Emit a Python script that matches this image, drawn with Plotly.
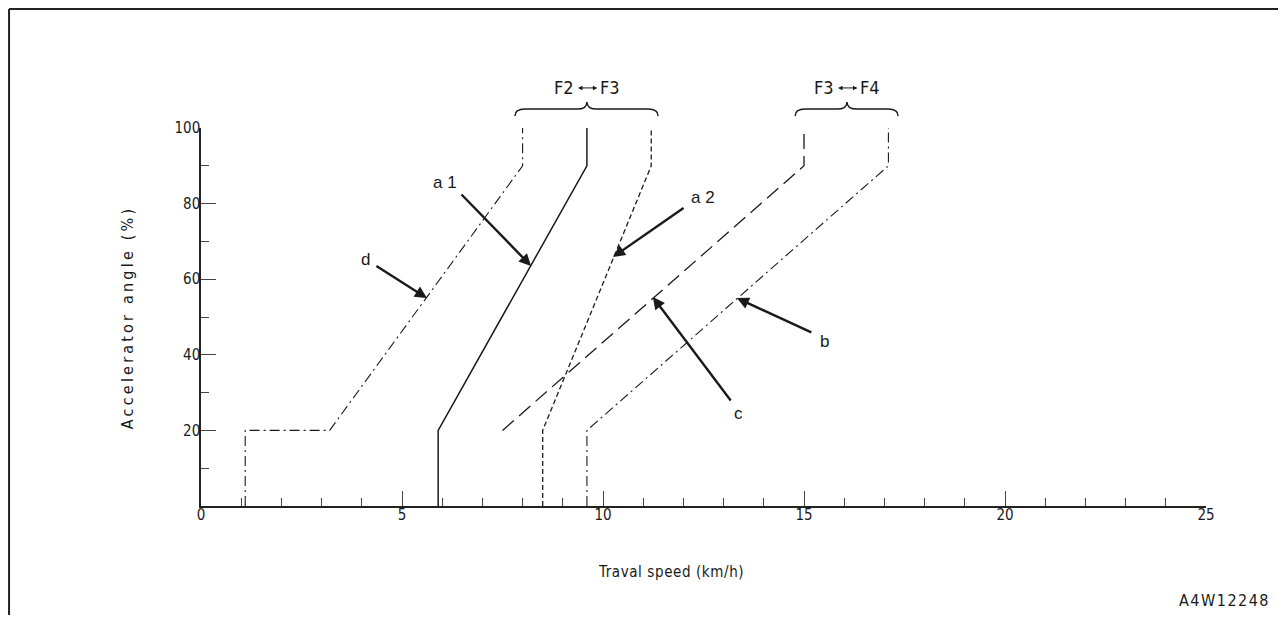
import plotly.graph_objects as go

# ---- data (travel speed km/h vs accelerator angle %) ----
a1_x = [5.9, 5.9, 9.6, 9.6]
a1_y = [0, 20, 90, 100]
a2_x = [8.5, 8.5, 11.2, 11.2]
a2_y = [0, 20, 90, 100]
b_x = [9.6, 9.6, 17.1, 17.1]
b_y = [0, 20, 90, 100]
c_x = [7.5, 15.0, 15.0]
c_y = [20, 90, 100]
d_x = [1.1, 1.1, 3.2, 8.0, 8.0]
d_y = [0, 20, 20, 90, 100]

x_ticks = [0, 5, 10, 15, 20, 25]
y_ticks = [20, 40, 60, 80, 100]

# label positions (data) and arrow targets
labels = ["a 1", "a 2", "d", "c", "b"]
label_x = [6.07, 12.49, 4.08, 13.36, 15.52]
label_y = [85.7, 81.7, 65.1, 24.6, 43.4]
arrow_x = [8.21, 10.25, 5.62, 11.24, 13.33]
arrow_y = [63.5, 65.9, 55.0, 55.3, 55.0]
arrow_ax = [-71, 72, -52, 79, 76]
arrow_ay = [-73, -50, -33, 105, 35]

# shift-range braces: (left text, right text, left end, centre, right end)
braces = [("F2", "F3", 7.81, 9.6, 11.37), ("F3", "F4", 14.78, 16.07, 17.34)]

FONT = "Liberation Sans Narrow, Arial Narrow, DejaVu Sans Condensed, sans-serif"
INK = "#1a1a1a"

fig = go.Figure()

def add_line(x, y, dash, width=1.3):
    fig.add_trace(go.Scatter(x=x, y=y, mode="lines", showlegend=False,
                             line=dict(color=INK, width=width, dash=dash),
                             hoverinfo="skip"))

add_line(d_x, d_y, "10px,4px,2px,4px", 1.1)
add_line(a1_x, a1_y, "solid", 1.5)
add_line(a2_x, a2_y, "5px,3px", 1.3)
add_line(c_x, c_y, "15px,7px", 1.3)
add_line(b_x, b_y, "10px,4px,2px,4px", 1.1)

annotations = []
for t, lx, ly in zip(labels, label_x, label_y):
    annotations.append(dict(x=lx, y=ly, xref="x", yref="y", text=t, showarrow=False,
                            xanchor="center", yanchor="middle",
                            font=dict(family="Liberation Sans, Arial, sans-serif", size=17, color=INK)))
for hx, hy, ax, ay in zip(arrow_x, arrow_y, arrow_ax, arrow_ay):
    annotations.append(dict(x=hx, y=hy, xref="x", yref="y", text="", showarrow=True,
                            ax=ax, ay=ay, arrowhead=2, arrowsize=1.0, arrowwidth=2.4,
                            arrowcolor=INK))

shapes = []
yh, ye, yp, yt = 1.050, 1.032, 1.069, 1.106
dd = 0.25
for tl, tr, x0, xc, x1 in braces:
    path = (f"M {x0},{ye} Q {x0},{yh} {x0+dd},{yh} L {xc-dd},{yh} "
            f"Q {xc},{yh} {xc},{yp} Q {xc},{yh} {xc+dd},{yh} "
            f"L {x1-dd},{yh} Q {x1},{yh} {x1},{ye}")
    shapes.append(dict(type="path", path=path, xref="x", yref="paper",
                       line=dict(color=INK, width=1.5)))
    annotations.append(dict(x=xc - 0.27, y=yt, xref="x", yref="paper", text=tl,
                            xanchor="right", yanchor="middle", showarrow=False,
                            font=dict(family=FONT, size=18, color=INK)))
    annotations.append(dict(x=xc + 0.27, y=yt, xref="x", yref="paper", text=tr,
                            xanchor="left", yanchor="middle", showarrow=False,
                            font=dict(family=FONT, size=18, color=INK)))
    annotations.append(dict(x=xc + 0.26, y=yt, xref="x", yref="paper", text="",
                            showarrow=True, axref="x", ax=xc - 0.26, ayref="pixel", ay=0,
                            arrowside="end+start", arrowhead=2, arrowsize=0.9,
                            arrowwidth=1.0, arrowcolor=INK, standoff=0, startstandoff=0))

# frame lines (top and left)
shapes.append(dict(type="line", xref="paper", yref="paper", x0=-0.191, x1=1.075,
                   y0=1.3148, y1=1.3148, line=dict(color="#222", width=2)))
shapes.append(dict(type="line", xref="paper", yref="paper", x0=-0.191, x1=-0.191,
                   y0=1.3148, y1=-0.29, line=dict(color="#222", width=2)))

# axis titles and drawing number
annotations.append(dict(x=-0.0736, y=0.497, xref="paper", yref="paper", textangle=-90,
                        xanchor="center", yanchor="middle",
                        text='<span style="letter-spacing:3.2px">Accelerator angle (%)</span>',
                        showarrow=False, font=dict(family=FONT, size=16, color=INK)))
annotations.append(dict(x=0.4677, y=-0.1746, xref="paper", yref="paper",
                        xanchor="center", yanchor="middle",
                        text='<span style="letter-spacing:0.6px">Traval speed (km/h)</span>',
                        showarrow=False, font=dict(family=FONT, size=15, color=INK)))
annotations.append(dict(x=1.0657, y=-0.251, xref="paper", yref="paper", xanchor="right",
                        yanchor="middle",
                        text='<span style="letter-spacing:1.5px">A4W12248</span>',
                        showarrow=False, font=dict(family=FONT, size=16, color=INK)))

axis_common = dict(showline=True, linecolor="#222", linewidth=1.5, showgrid=False,
                   zeroline=False, ticks="inside", ticklen=15, tickwidth=1.3,
                   tickcolor="#444", tickfont=dict(family=FONT, size=15, color=INK))

# the page body has an 8px margin; size the figure so the plot area lands
# where the reference has it
fig.update_layout(
    width=1270, height=607,
    margin=dict(l=193, r=72, t=120, b=109),
    paper_bgcolor="white", plot_bgcolor="white",
    xaxis=dict(range=[0, 25], tickvals=x_ticks, ticklabelstandoff=-6, **axis_common,
               minor=dict(dtick=1, tick0=0, ticks="inside", ticklen=8, tickwidth=1.2,
                          tickcolor="#444", showgrid=False)),
    yaxis=dict(range=[0, 100], tickvals=y_ticks, ticklabelstandoff=-4, **axis_common,
               minor=dict(dtick=10, tick0=0, ticks="inside", ticklen=8, tickwidth=1.2,
                          tickcolor="#444", showgrid=False)),
    annotations=annotations, shapes=shapes,
)

fig.write_html("out.html")
